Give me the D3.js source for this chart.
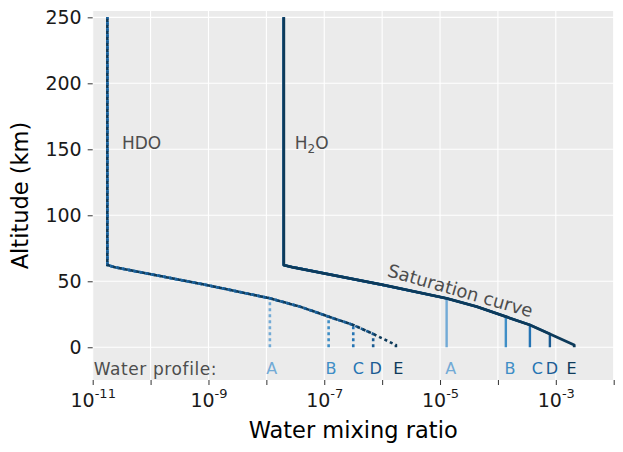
<!DOCTYPE html>
<html>
<head>
<meta charset="utf-8">
<script src="https://cdn.jsdelivr.net/npm/d3@7"></script>
<style>
  body { margin: 0; background: #fff; }
  text { font-family: "DejaVu Sans", sans-serif; }
</style>
</head>
<body>
<div id="chart"></div>
<script>
var profiles = ["A", "B", "C", "D", "E"],
    colors = ["#72aad6", "#3f8ec6", "#2574b4", "#1a5b92", "#0d3a5a"],
    // saturation curve, shared altitudes (km)
    satAlt = [250, 62.3, 60.6, 47.2, 37.1, 30.8, 23.2, 16.9, 10.1, 1.7],
    h2oSat = [2.0e-8, 2.0e-8, 2.9e-8, 1.04e-6, 1.3e-5, 4.3e-5, 1.37e-4, 3.57e-4, 7.9e-4, 2.08e-3],
    hdoSat = [1.79e-11, 1.79e-11, 2.43e-11, 9.2e-10, 1.15e-8, 3.8e-8, 1.19e-7, 3.17e-7, 7.0e-7, 1.73e-6],
    // surface values of each water profile and altitude where it hits saturation
    h2oSurface = [1.3e-5, 1.37e-4, 3.57e-4, 7.9e-4, 2.08e-3],
    hdoSurface = [1.15e-8, 1.19e-7, 3.17e-7, 7.0e-7, 1.73e-6],
    profileSatAlt = [37.1, 23.2, 16.9, 10.1, 1.7],
    // where the profile letters sit
    h2oLabelX = [1.53e-5, 1.62e-4, 4.79e-4, 8.6e-4, 1.88e-3],
    hdoLabelX = [1.24e-8, 1.31e-7, 3.87e-7, 7.74e-7, 1.90e-6],
    labelAlt = -16,
    xTicks = [1e-11, 1e-10, 1e-9, 1e-8, 1e-7, 1e-6, 1e-5, 1e-4, 1e-3, 1e-2],
    yTicks = [0, 50, 100, 150, 200, 250];

var margin = { top: 11, right: 9.3, bottom: 72, left: 92.7 },
    width = 623 - margin.left - margin.right,
    height = 452 - margin.top - margin.bottom;

var svg = d3.select("#chart").append("svg")
    .attr("width", 623)
    .attr("height", 452)
    .append("g")
    .attr("transform", "translate(" + margin.left + "," + margin.top + ")");

var x = d3.scaleLog().domain([1e-11, 1e-2]).range([0, width]);
var y = d3.scaleLinear().domain([-24.8, 254.8]).range([height, 0]);

// panel + grid
svg.append("rect")
    .attr("width", width)
    .attr("height", height)
    .attr("fill", "#ebebeb");

svg.selectAll(".vgrid")
    .data(xTicks)
    .enter().append("line")
    .attr("class", "vgrid")
    .attr("x1", function (d) { return x(d); })
    .attr("x2", function (d) { return x(d); })
    .attr("y1", 0)
    .attr("y2", height)
    .attr("stroke", "#fff")
    .attr("stroke-width", 1.1);

svg.selectAll(".hgrid")
    .data(yTicks)
    .enter().append("line")
    .attr("class", "hgrid")
    .attr("x1", 0)
    .attr("x2", width)
    .attr("y1", function (d) { return y(d); })
    .attr("y2", function (d) { return y(d); })
    .attr("stroke", "#fff")
    .attr("stroke-width", 1.1);

// build the path of one profile: constant from ground up to saturation, then the curve
function profilePath(surface, sat, i) {
    var pts = [[surface[i], 0], [surface[i], profileSatAlt[i]]];
    for (var k = sat.length - 1; k >= 0; k--) {
        if (satAlt[k] > profileSatAlt[i] + 0.01) pts.push([sat[k], satAlt[k]]);
    }
    return pts;
}

var line = d3.line()
    .x(function (d) { return x(d[0]); })
    .y(function (d) { return y(d[1]); });

profiles.forEach(function (p, i) {
    svg.append("path")
        .datum(profilePath(hdoSurface, hdoSat, i))
        .attr("d", line)
        .attr("fill", "none")
        .attr("stroke", colors[i])
        .attr("stroke-width", 2.6)
        .attr("stroke-dasharray", "3,3");
});

profiles.forEach(function (p, i) {
    svg.append("path")
        .datum(profilePath(h2oSurface, h2oSat, i))
        .attr("d", line)
        .attr("fill", "none")
        .attr("stroke", colors[i])
        .attr("stroke-width", i === 4 ? 2.8 : 2.4)
        .attr("stroke-linejoin", "round");
});

// profile letters
svg.append("text")
    .attr("x", x(1e-11) + 1)
    .attr("y", y(labelAlt))
    .attr("dy", "0.36em")
    .attr("fill", "#4d4d4d")
    .style("font-size", "17px")
    .style("letter-spacing", "0.6px")
    .text("Water profile:");

[hdoLabelX, h2oLabelX].forEach(function (lx) {
    svg.selectAll(null)
        .data(profiles)
        .enter().append("text")
        .attr("x", function (d, i) { return x(lx[i]); })
        .attr("y", y(labelAlt))
        .attr("dy", "0.36em")
        .attr("text-anchor", "middle")
        .attr("fill", function (d, i) { return colors[i]; })
        .style("font-size", "16px")
        .text(function (d) { return d; });
});

// species labels
svg.append("text")
    .attr("x", x(3.2e-11))
    .attr("y", y(154.8))
    .attr("dy", "0.36em")
    .attr("fill", "#4d4d4d")
    .style("font-size", "17px")
    .text("HDO");

var h2oLabel = svg.append("text")
    .attr("x", x(3.1e-8))
    .attr("y", y(154.8))
    .attr("dy", "0.36em")
    .attr("fill", "#4d4d4d")
    .style("font-size", "17px");
h2oLabel.append("tspan").text("H");
h2oLabel.append("tspan").attr("dy", 4).style("font-size", "12px").text("2");
h2oLabel.append("tspan").attr("dy", -4).text("O");

svg.append("text")
    .attr("transform", "translate(" + x(2.1e-5) + "," + y(38.3) + ") rotate(16)")
    .attr("text-anchor", "middle")
    .attr("fill", "#4d4d4d")
    .style("font-size", "18px")
    .text("Saturation curve");

// axes
var xAxis = svg.append("g")
    .attr("transform", "translate(0," + height + ")")
    .call(d3.axisBottom(x).tickValues(xTicks).tickSize(5).tickPadding(6).tickFormat(""));

xAxis.selectAll(".tick text").each(function (d) {
    var e = Math.round(Math.log10(d));
    if (Math.abs(e) % 2 === 0) return;
    var t = d3.select(this)
        .attr("fill", "#1a1a1a")
        .attr("y", 26.7)
        .attr("dy", null)
        .style("font-size", "19px");
    t.append("tspan").text("10");
    t.append("tspan").attr("dy", -8.5).style("font-size", "13px").text("-" + Math.abs(e));
});

var yAxis = svg.append("g")
    .call(d3.axisLeft(y).tickValues(yTicks).tickSize(5).tickPadding(6));

yAxis.selectAll(".tick text")
    .attr("fill", "#1a1a1a")
    .style("font-size", "19px");

[xAxis, yAxis].forEach(function (a) {
    a.select(".domain").remove();
    a.selectAll(".tick line").attr("stroke", "#333");
});

svg.append("text")
    .attr("x", width / 2)
    .attr("y", 438 - margin.top)
    .attr("text-anchor", "middle")
    .attr("fill", "#000")
    .style("font-size", "22.5px")
    .text("Water mixing ratio");

svg.append("text")
    .attr("transform", "translate(" + (28.3 - margin.left) + "," + height / 2 + ") rotate(-90)")
    .attr("text-anchor", "middle")
    .attr("fill", "#000")
    .style("font-size", "22.5px")
    .text("Altitude (km)");
</script>
</body>
</html>
